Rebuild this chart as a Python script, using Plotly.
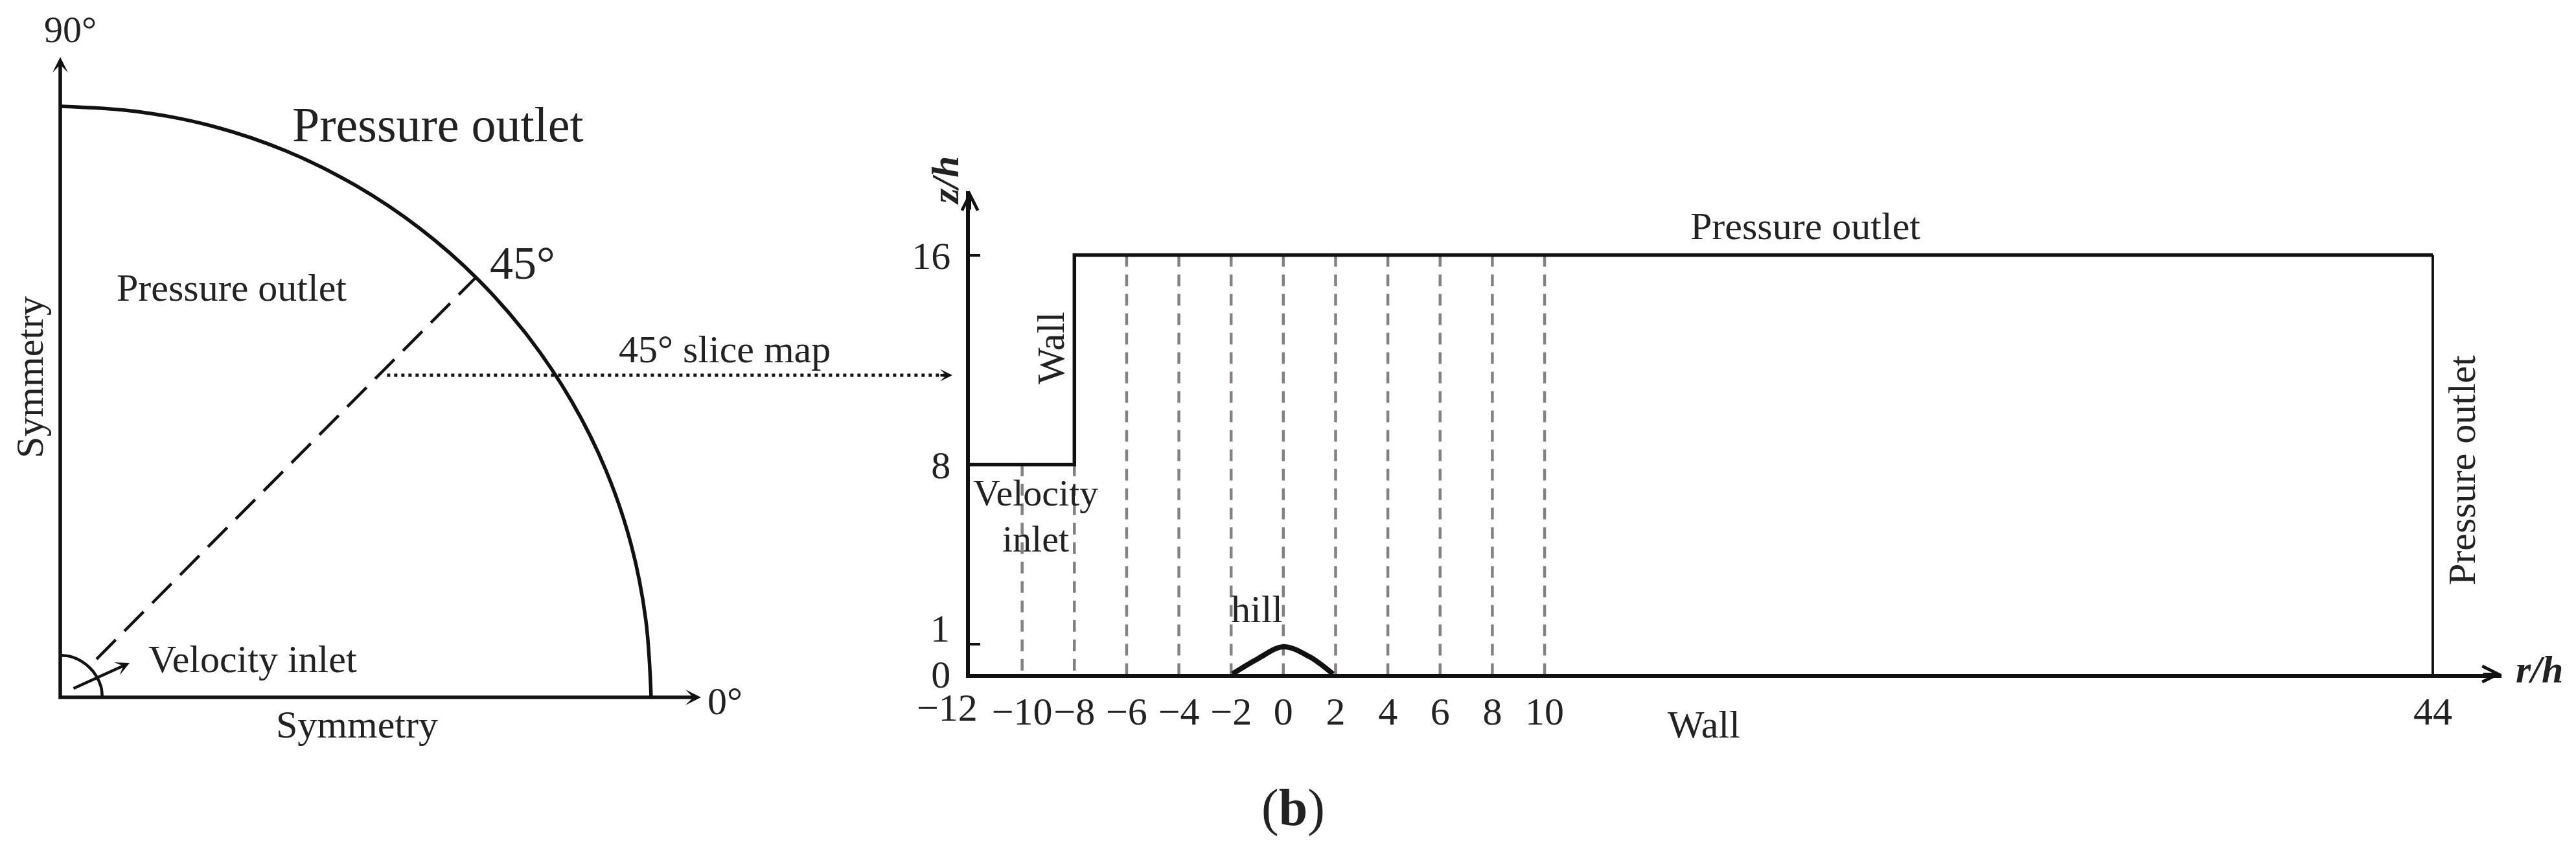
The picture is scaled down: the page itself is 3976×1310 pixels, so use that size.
import plotly.graph_objects as go

W = 3976
H = 1310
# the page keeps its 8px body margin, so the figure is a bit smaller than the window
PAGE = 8
FIG_W = W - 2 * PAGE
FIG_H = H - 2 * PAGE
SERIF = "Liberation Serif"

# left panel, radius of the sector = 1
arc_x = [0, 0.131, 0.259, 0.383, 0.5, 0.609, 0.707, 0.793, 0.866, 0.924, 0.966, 0.991, 1]
arc_y = [1, 0.991, 0.966, 0.924, 0.866, 0.793, 0.707, 0.609, 0.5, 0.383, 0.259, 0.131, 0]
small_arc_x = [0, 0.018, 0.036, 0.05, 0.061, 0.069, 0.071]
small_arc_y = [0.071, 0.069, 0.061, 0.05, 0.036, 0.018, 0]
slice_x = [0.0614, 0.703]
slice_y = [0.0647, 0.71]
axis_x = [0, 0, 1.075]
axis_y = [1.075, 0, 0]
map_x = [0.553, 1.5]
map_y = [0.545, 0.545]

# right panel, r/h and z/h
outline_r = [-12, -8, -8, 44]
outline_z = [8, 8, 16, 16]
outlet_r = [44, 44]
outlet_z = [16, 0]
hill_r = [-1.95, -1, 0, 1, 1.9]
hill_z = [0, 0.57, 1.04, 0.66, 0]
slice_r = [-10, -8, -6, -4, -2, 0, 2, 4, 6, 8, 10]
slice_top = [8, 8, 16, 16, 16, 16, 16, 16, 16, 16, 16]
r_ticks = [-10, -8, -6, -4, -2, 0, 2, 4, 6, 8, 10, 44]
r_labels = ["−10", "−8", "−6", "−4", "−2", "0", "2", "4", "6", "8", "10", "44"]
z_ticks = [0, 1.14, 8, 16]
z_labels = ["0", "", "8", "16"]

fig = go.Figure()

# left panel
fig.add_trace(go.Scatter(x=axis_x, y=axis_y, mode="lines", line=dict(color="#111", width=5.5)))
fig.add_trace(go.Scatter(x=arc_x, y=arc_y, mode="lines", line=dict(color="#111", width=5.5, shape="spline", smoothing=1)))
fig.add_trace(go.Scatter(x=small_arc_x, y=small_arc_y, mode="lines", line=dict(color="#111", width=4.5, shape="spline", smoothing=1)))
fig.add_trace(go.Scatter(x=slice_x, y=slice_y, mode="lines", line=dict(color="#111", width=4.5, dash="42px,19px")))
fig.add_trace(go.Scatter(x=map_x, y=map_y, mode="lines", line=dict(color="#111", width=5, dash="5px,6px")))

# right panel
for r, top in zip(slice_r, slice_top):
    fig.add_trace(go.Scatter(x=[r, r], y=[top, 0], xaxis="x2", yaxis="y2", mode="lines",
                             line=dict(color="#858181", width=4.5, dash="18px,12px")))
fig.add_trace(go.Scatter(x=outline_r, y=outline_z, xaxis="x2", yaxis="y2", mode="lines",
                         line=dict(color="#111", width=5.5)))
fig.add_trace(go.Scatter(x=outlet_r, y=outlet_z, xaxis="x2", yaxis="y2", mode="lines",
                         line=dict(color="#111", width=4)))
fig.add_trace(go.Scatter(x=hill_r, y=hill_z, xaxis="x2", yaxis="y2", mode="lines",
                         line=dict(color="#111", width=8, shape="spline", smoothing=1)))

fig.update_layout(
    template="none",
    width=FIG_W, height=FIG_H, autosize=False, showlegend=False,
    margin=dict(l=0, r=0, t=0, b=0),
    paper_bgcolor="white", plot_bgcolor="rgba(0,0,0,0)",
    font=dict(family=SERIF, size=60, color="#111"),
    # left axes fill the page so the dotted line can reach the right panel
    xaxis=dict(domain=[0, 1], range=[(PAGE - 93) / 912, (PAGE + FIG_W - 93) / 912], visible=False),
    yaxis=dict(domain=[0, 1], range=[(1076 - PAGE - FIG_H) / 912, (1076 - PAGE) / 912], visible=False),
    xaxis2=dict(domain=[(1497 - PAGE) / FIG_W, (3861 - PAGE) / FIG_W], range=[-12, 46.63], anchor="y2",
                showline=True, linecolor="#111", linewidth=5.5, showgrid=False, zeroline=False,
                automargin=False, tickangle=0,
                tickvals=r_ticks, ticktext=r_labels, ticks="", ticklabelstandoff=0,
                tickfont=dict(size=60, color="#222")),
    yaxis2=dict(domain=[(H - PAGE - 1040) / FIG_H, (H - PAGE - 295) / FIG_H], range=[0, 18.44], anchor="x2",
                showline=True, linecolor="#111", linewidth=5.5, showgrid=False, zeroline=False,
                automargin=False, tickangle=0,
                tickvals=z_ticks, ticktext=z_labels, ticks="inside", ticklen=16, tickwidth=3.5,
                tickcolor="#111", ticklabelstandoff=12, tickfont=dict(size=60, color="#222")),
)


def label(text, px, py, size=60, angle=0):
    fig.add_annotation(text=text, xref="paper", yref="paper",
                       x=(px - PAGE) / FIG_W, y=1 - (py - PAGE) / FIG_H,
                       xanchor="center", yanchor="middle", showarrow=False, textangle=angle,
                       font=dict(family=SERIF, size=size, color="#222"))


def arrow(px, py, dx, dy, head, width=4, size=1.0):
    # dx, dy is the offset from the tip back to the tail
    fig.add_annotation(text="", xref="paper", yref="paper",
                       x=(px - PAGE) / FIG_W, y=1 - (py - PAGE) / FIG_H,
                       ax=dx, ay=dy, showarrow=True, arrowhead=head, arrowwidth=width,
                       arrowsize=size, arrowcolor="#111", standoff=0)


label("90°", 108, 45, 58)
label("Pressure outlet", 676, 192, 76)
label("45°", 806, 406, 72)
label("Pressure outlet", 357, 444)
label("45° slice map", 1118, 539)
label("Symmetry", 46, 582, 60, -90)
label("Velocity inlet", 390, 1017)
label("0°", 1119, 1082)
label("Symmetry", 551, 1118)

label("<b><i>z/h</i></b>", 1459, 279, 60, -90)
label("Pressure outlet", 2786, 349)
label("Wall", 1622, 537, 60, -90)
label("Velocity", 1598, 760, 58)
label("inlet", 1598, 831, 58)
label("hill", 1940, 940)
label("1", 1451, 970)
label("−12", 1462, 1092)
label("Wall", 2630, 1118)
label("Pressure outlet", 3800, 726, 60, -90)
label("<b><i>r/h</i></b>", 3919, 1033)
label("(<b>b</b>)", 1996, 1246, 80)

arrow(93, 88, 0, 30, 3)
arrow(1082, 1076, -30, 0, 3)
arrow(200, 1023, -88, 40, 3, 4.5, 0.8)
arrow(1470, 579, -20, 0, 3, 4, 0.8)
arrow(1497, 295, 0, 30, 5, 4, 1.2)
arrow(3861, 1040, -30, 0, 5, 4, 1.2)

fig.write_html("out.html")
